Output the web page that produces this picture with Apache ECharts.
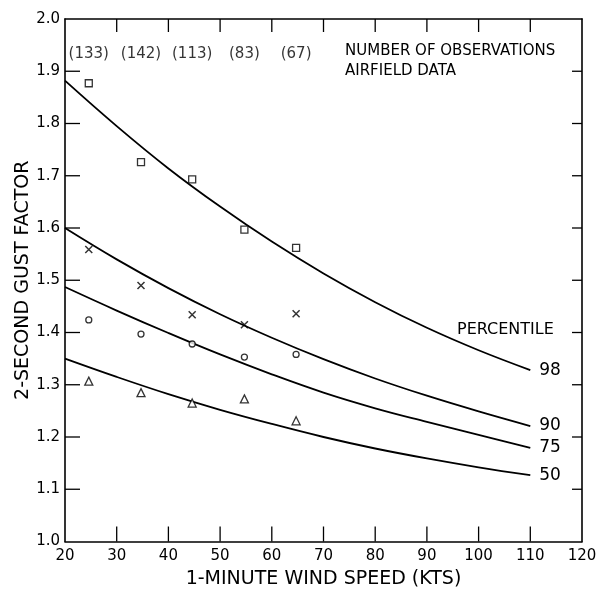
<!DOCTYPE html>
<html>
<head>
<meta charset="utf-8">
<script src="https://cdn.jsdelivr.net/npm/echarts@6/dist/echarts.min.js"></script>
<style>
html,body{margin:0;padding:0;background:#fff;}
#chart{width:597px;height:596px;}
</style>
</head>
<body>
<div id="chart"></div>
<script>
// Curve sample points
const speeds = [20, 30, 40, 50, 60, 70, 80, 90, 100, 110];
const p98 = [1.882, 1.795, 1.714, 1.641, 1.574, 1.513, 1.458, 1.409, 1.366, 1.328];
const p90 = [1.600, 1.540, 1.485, 1.435, 1.390, 1.349, 1.312, 1.279, 1.249, 1.221];
const p75 = [1.487, 1.442, 1.399, 1.358, 1.320, 1.285, 1.255, 1.229, 1.204, 1.179];
const p50 = [1.350, 1.315, 1.282, 1.252, 1.225, 1.200, 1.178, 1.159, 1.142, 1.127];
const curveNames = ['98', '90', '75', '50'];

// Observed points
const obsSpeeds = [24.6, 34.7, 44.6, 54.7, 64.7];
const obs98 = [1.877, 1.726, 1.693, 1.597, 1.562];
const obs90 = [1.559, 1.490, 1.434, 1.415, 1.436];
const obs75 = [1.424, 1.397, 1.378, 1.353, 1.358];
const obs50 = [1.307, 1.285, 1.265, 1.273, 1.231];
const obsCounts = ['(133)', '(142)', '(113)', '(83)', '(67)'];
const countLevel = 1.932;

// Axis ticks
const xTicks = [20, 30, 40, 50, 60, 70, 80, 90, 100, 110, 120];
const yTicks = [1.0, 1.1, 1.2, 1.3, 1.4, 1.5, 1.6, 1.7, 1.8, 1.9, 2.0];
const xMin = 20, xMax = 120, yMin = 1.0, yMax = 2.0;

const FONT = 'DejaVu Sans';
const chart = echarts.init(document.getElementById('chart'));

const zip = (xs, ys) => xs.map((x, i) => [x, ys[i]]);
const xPath = 'path://M0,0L10,10M10,0L0,10';

function curve(name, vals) {
  return {
    type: 'line', name: name, data: zip(speeds, vals), smooth: 0.4,
    showSymbol: false, symbol: 'none',
    lineStyle: {color: '#000', width: 1.8},
    endLabel: {show: true, formatter: name, color: '#000', fontFamily: FONT, fontSize: 17, distance: 9},
    z: 3
  };
}
function obs(vals, symbol, size, fill, bw) {
  return {
    type: 'scatter', data: zip(obsSpeeds, vals), symbol: symbol, symbolSize: size,
    itemStyle: {color: fill, borderColor: '#000', borderWidth: bw || 1.3},
    z: 4
  };
}

// tick marks drawn through the axis scales (inner ticks on all four sides)
const innerX = xTicks.filter(v => v > xMin && v < xMax);
const innerY = yTicks.filter(v => v > yMin + 1e-9 && v < yMax - 1e-9);
const tickData = []
  .concat(innerX.map(v => ['b', v]))
  .concat(innerX.map(v => ['t', v]))
  .concat(innerY.map(v => ['l', v]))
  .concat(innerY.map(v => ['r', v]));
const tickLen = {b: 15, t: 13, l: 15, r: 10};

const ticksSeries = {
  type: 'custom', silent: true, z: 5,
  data: tickData.map(() => [0, 0]),
  renderItem: function (params, api) {
    const d = tickData[params.dataIndex];
    const side = d[0], v = d[1], L = tickLen[side];
    let p, q;
    if (side === 'b') { p = api.coord([v, yMin]); q = [p[0], p[1] - L]; }
    else if (side === 't') { p = api.coord([v, yMax]); q = [p[0], p[1] + L]; }
    else if (side === 'l') { p = api.coord([xMin, v]); q = [p[0] + L, p[1]]; }
    else { p = api.coord([xMax, v]); q = [p[0] - L, p[1]]; }
    return {type: 'line', shape: {x1: p[0], y1: p[1], x2: q[0], y2: q[1]},
      style: {stroke: '#000', lineWidth: 1.3}};
  }
};

const axisCommon = {
  axisLine: {show: true, onZero: false, lineStyle: {color: '#000', width: 1.6}},
  axisTick: {show: false},
  splitLine: {show: false}
};

chart.setOption({
  animation: false,
  backgroundColor: '#fff',
  grid: {left: 65, right: 15, top: 19, bottom: 54.5, containLabel: false, outerBoundsMode: 'none'},
  xAxis: [
    Object.assign({
      type: 'value', min: xMin, max: xMax, interval: 10, position: 'bottom',
      name: '1-MINUTE WIND SPEED (KTS)', nameLocation: 'middle', nameGap: 28, nameMoveOverlap: false,
      nameTextStyle: {fontFamily: FONT, fontSize: 19, color: '#000'},
      axisLabel: {color: '#000', fontFamily: FONT, fontSize: 15, margin: 7,
        formatter: v => xTicks.includes(v) ? String(v) : ''}
    }, axisCommon),
    Object.assign({
      type: 'value', min: xMin, max: xMax, interval: 10, position: 'top',
      axisLabel: {show: false}
    }, axisCommon)
  ],
  yAxis: [
    Object.assign({
      type: 'value', min: yMin, max: yMax, interval: 0.1, position: 'left',
      name: '2-SECOND GUST FACTOR', nameLocation: 'middle', nameGap: 32, nameRotate: 90, nameMoveOverlap: false,
      nameTextStyle: {fontFamily: FONT, fontSize: 19, color: '#000'},
      axisLabel: {color: '#000', fontFamily: FONT, fontSize: 15, margin: 5,
        formatter: v => yTicks.some(t => Math.abs(t - v) < 1e-6) ? v.toFixed(1) : ''}
    }, axisCommon),
    Object.assign({
      type: 'value', min: yMin, max: yMax, interval: 0.1, position: 'right',
      axisLabel: {show: false}
    }, axisCommon)
  ],
  graphic: [
    {type: 'text', left: 345, top: 44, style: {text: 'NUMBER OF OBSERVATIONS', fontFamily: FONT, fontSize: 15, fill: '#000'}},
    {type: 'text', left: 345, top: 64, style: {text: 'AIRFIELD DATA', fontFamily: FONT, fontSize: 15, fill: '#000'}},
    {type: 'text', left: 457, top: 322, style: {text: 'PERCENTILE', fontFamily: FONT, fontSize: 16, fill: '#000'}}
  ],
  series: [
    curve(curveNames[0], p98),
    curve(curveNames[1], p90),
    curve(curveNames[2], p75),
    curve(curveNames[3], p50),
    obs(obs98, 'rect', 7, '#fff'),
    obs(obs90, xPath, 7, 'none', 1.5),
    obs(obs75, 'circle', 6, '#fff'),
    obs(obs50, 'triangle', 8, '#fff'),
    {
      type: 'scatter', symbolSize: 0, silent: true,
      data: obsSpeeds.map((x, i) => ({value: [x, countLevel], label: {formatter: obsCounts[i]}})),
      label: {show: true, position: 'inside', color: '#000', fontFamily: FONT, fontSize: 15}
    },
    ticksSeries
  ]
});
</script>
</body>
</html>
